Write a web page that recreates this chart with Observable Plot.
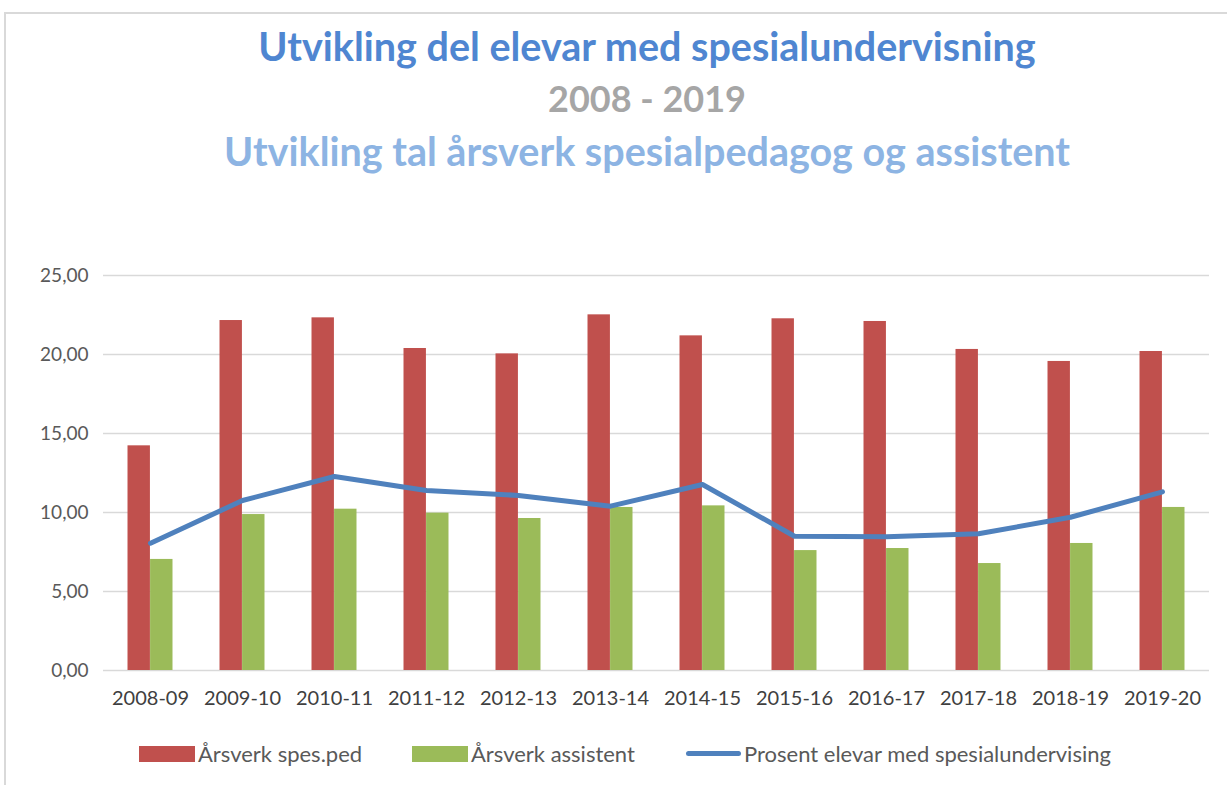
<!DOCTYPE html>
<html>
<head>
<meta charset="utf-8">
<script src="https://cdn.jsdelivr.net/npm/d3@7"></script>
<script src="https://cdn.jsdelivr.net/npm/@observablehq/plot@0.6"></script>
<style>
  html, body { margin: 0; padding: 0; background: #fff; }
  body { width: 1227px; height: 785px; position: relative; overflow: hidden; font-family: Lato, "Open Sans", sans-serif; }
  #frame { position: absolute; left: 4px; top: 12px; width: 1240px; height: 800px; border-left: 2px solid #d9d9d9; border-top: 2px solid #d9d9d9; }
  .title { position: absolute; left: 0; width: 1294px; text-align: center; font-weight: bold; white-space: nowrap; line-height: 1; }
  #t1 { top: 26px; font-size: 39.5px; color: #4f86d1; }
  #t2 { top: 80px; font-size: 36px; color: #a6a6a6; }
  #t3 { top: 131px; font-size: 39.5px; color: #8db4e3; }
  #chart { position: absolute; left: 0; top: 230px; }
  #legend { position: absolute; top: 740px; left: 0; width: 1227px; font-size: 22px; color: #595959; }
  .item { position: absolute; display: flex; align-items: center; white-space: nowrap; }
  .sw { display: inline-block; margin-right: 3px; }
</style>
</head>
<body>
<div id="frame"></div>
<div class="title" id="t1">Utvikling del elevar med spesialundervisning</div>
<div class="title" id="t2">2008 - 2019</div>
<div class="title" id="t3">Utvikling tal årsverk spesialpedagog og assistent</div>
<div id="chart"></div>
<div id="legend">
  <div class="item" style="left:139px"><span class="sw" style="width:56px;height:16px;background:#c0504d"></span>Årsverk spes.ped</div>
  <div class="item" style="left:412px"><span class="sw" style="width:56px;height:16px;background:#9bbb59"></span>Årsverk assistent</div>
  <div class="item" style="left:686px"><span class="sw" style="width:55px;height:5px;border-radius:3px;background:#4f81bd"></span>Prosent elevar med spesialundervising</div>
</div>
<script>
const years = ["2008-09","2009-10","2010-11","2011-12","2012-13","2013-14","2014-15","2015-16","2016-17","2017-18","2018-19","2019-20"];
const spesped = [14.22, 22.15, 22.32, 20.38, 20.04, 22.51, 21.18, 22.26, 22.09, 20.32, 19.56, 20.19];
const assistent = [7.03, 9.87, 10.21, 9.96, 9.62, 10.32, 10.42, 7.59, 7.72, 6.77, 8.04, 10.32];
const prosent = [8.06, 10.76, 12.28, 11.39, 11.08, 10.40, 11.77, 8.50, 8.46, 8.65, 9.70, 11.31];
const yTicks = [0, 5, 10, 15, 20, 25];

const rows = years.map((y, i) => ({year: y, spes: spesped[i], assist: assistent[i], pct: prosent[i]}));

const W = 1227, H = 490;
const mL = 103, mR = 18, mT = 45, mB = 50;
const band = (W - mL - mR) / years.length;
const barW = band * 0.245;
const half = band / 2;

const fmt = d => d.toFixed(2).replace(".", ",");

const chart = Plot.plot({
  width: W,
  height: H,
  marginLeft: mL,
  marginRight: mR,
  marginTop: mT,
  marginBottom: mB,
  style: {fontFamily: "Lato, 'Open Sans', sans-serif", fontSize: "19px", color: "#595959", background: "transparent"},
  x: {type: "band", domain: years, padding: 0, tickSize: 0, tickPadding: 20, label: null},
  y: {domain: [0, 25], ticks: yTicks, tickFormat: fmt, tickSize: 0, tickPadding: 15, label: null},
  marks: [
    Plot.ruleY(yTicks, {stroke: "#d9d9d9", strokeWidth: 1.5}),
    Plot.barY(rows, {x: "year", y: "spes", fill: "#c0504d", insetLeft: half - barW, insetRight: half}),
    Plot.barY(rows, {x: "year", y: "assist", fill: "#9bbb59", insetLeft: half, insetRight: half - barW}),
    Plot.line(rows, {x: "year", y: "pct", stroke: "#4f81bd", strokeWidth: 5, strokeLinecap: "round", strokeLinejoin: "round"}),
    Plot.axisX({tickSize: 0, tickPadding: 20, fontSize: 20, fill: "#404040"})
  ]
});
document.getElementById("chart").appendChild(chart);
</script>
</body>
</html>
